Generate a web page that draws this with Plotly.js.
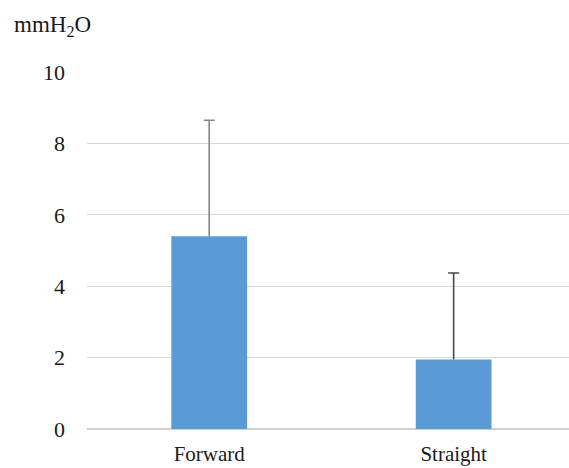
<!DOCTYPE html>
<html>
<head>
<meta charset="utf-8">
<script src="https://cdn.plot.ly/plotly-3.0.1.min.js"></script>
<style>html,body{margin:0;padding:0;background:#fff;}#chart{width:569px;height:468px;}</style>
</head>
<body>
<div id="chart"></div>
<script>
const categories = ["Forward", "Straight"];
const meanValues = [5.4, 1.95];
const errorPlus = [3.25, 2.42];
const yTickValues = [0, 2, 4, 6, 8, 10];
const yUnitLabel = "mmH<sub>2</sub>O";

const serif = "Liberation Serif";
const errColors = ["#858585", "#4a4a4a"];
const barColor = "#5b9bd5";

const traces = [];
categories.forEach((cat, i) => {
  // bar with error stem (no caps)
  traces.push({
    type: "bar",
    x: [cat],
    y: [meanValues[i]],
    marker: {color: barColor},
    error_y: {
      type: "data",
      symmetric: false,
      array: [errorPlus[i]],
      arrayminus: [0],
      color: errColors[i],
      thickness: 1.6,
      width: 0
    },
    hoverinfo: "none"
  });
  // cap at top of the error bar
  traces.push({
    type: "scatter",
    mode: "markers",
    x: [cat],
    y: [meanValues[i] + errorPlus[i]],
    marker: {size: 1, opacity: 0},
    error_y: {
      type: "data",
      symmetric: true,
      array: [0],
      color: errColors[i],
      thickness: 1.6,
      width: 5.5
    },
    hoverinfo: "none"
  });
});

const layout = {
  width: 569,
  height: 468,
  margin: {l: 87, r: 0, t: 72, b: 39},
  paper_bgcolor: "#ffffff",
  plot_bgcolor: "#ffffff",
  showlegend: false,
  barmode: "overlay",
  bargap: 0.69,
  font: {family: serif, size: 20, color: "#1a1a1a"},
  xaxis: {
    type: "category",
    categoryorder: "array",
    categoryarray: categories,
    range: [-0.5, 1.472],
    showgrid: false,
    showline: false,
    zeroline: false,
    ticks: "",
    tickfont: {family: serif, size: 21, color: "#1a1a1a"},
    ticklabelstandoff: 10
  },
  yaxis: {
    range: [0, 10],
    tickvals: yTickValues,
    ticktext: yTickValues.map(String),
    showgrid: true,
    gridcolor: "#d9d9d9",
    gridwidth: 1.3,
    zeroline: true,
    zerolinecolor: "#d0d0d0",
    zerolinewidth: 1.5,
    showline: false,
    ticks: "",
    tickfont: {family: serif, size: 22, color: "#1a1a1a"},
    ticklabelstandoff: 21
  },
  annotations: [{
    text: yUnitLabel,
    xref: "paper", yref: "paper",
    x: -87/482, y: 1 + (72 - 26)/357,
    xanchor: "left", yanchor: "middle",
    xshift: 12,
    showarrow: false,
    font: {family: serif, size: 23, color: "#1a1a1a"}
  }]
};

Plotly.newPlot("chart", traces, layout, {staticPlot: true, displayModeBar: false});
</script>
</body>
</html>
